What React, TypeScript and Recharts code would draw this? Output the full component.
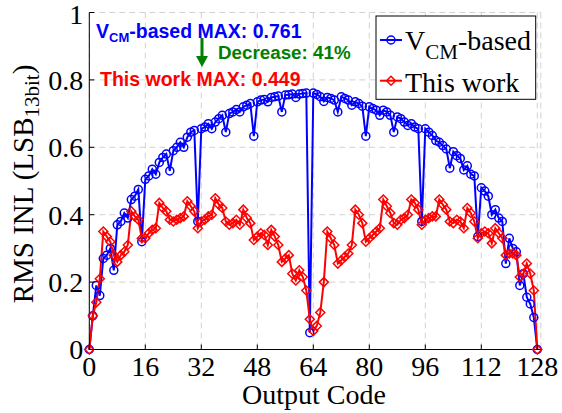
import React from 'react'
import { LineChart, Line, XAxis, YAxis, CartesianGrid } from 'recharts'

// output codes of the 7-bit sweep
const CODES = Array.from({ length: 129 }, (_, i) => i)
const X_TICKS = [0, 16, 32, 48, 64, 80, 96, 112, 128]
const Y_TICKS = [0, 0.2, 0.4, 0.6, 0.8, 1]

// RMS INL (LSB, 13-bit) per output code
const VCM_INL = [
  0, 0.10, 0.19, 0.16, 0.27, 0.28, 0.30, 0.235, 0.37, 0.38,
  0.405, 0.39, 0.445, 0.455, 0.475, 0.32, 0.505, 0.515, 0.535, 0.52,
  0.555, 0.57, 0.58, 0.53, 0.59, 0.60, 0.615, 0.60, 0.63, 0.645,
  0.65, 0.38, 0.655, 0.66, 0.67, 0.655, 0.675, 0.685, 0.695, 0.645,
  0.70, 0.705, 0.712, 0.705, 0.72, 0.725, 0.73, 0.633, 0.735, 0.74,
  0.742, 0.735, 0.748, 0.75, 0.752, 0.705, 0.755, 0.756, 0.758, 0.748,
  0.758, 0.76, 0.761, 0.05, 0.761, 0.757, 0.75, 0.736, 0.748, 0.745,
  0.74, 0.705, 0.75, 0.745, 0.74, 0.725, 0.735, 0.73, 0.722, 0.633,
  0.72, 0.715, 0.71, 0.695, 0.71, 0.705, 0.695, 0.645, 0.69, 0.685,
  0.675, 0.665, 0.67, 0.66, 0.655, 0.38, 0.655, 0.645, 0.635, 0.62,
  0.615, 0.605, 0.595, 0.538, 0.587, 0.575, 0.567, 0.533, 0.545, 0.52,
  0.515, 0.335, 0.48, 0.47, 0.455, 0.40, 0.415, 0.39, 0.38, 0.255,
  0.33, 0.30, 0.29, 0.19, 0.225, 0.155, 0.135, 0.095, 0,
]

const THIS_WORK_INL = [
  0, 0.10, 0.14, 0.21, 0.35, 0.335, 0.32, 0.28, 0.26, 0.28,
  0.29, 0.31, 0.41, 0.395, 0.385, 0.33, 0.33, 0.345, 0.355, 0.36,
  0.435, 0.42, 0.41, 0.385, 0.38, 0.385, 0.39, 0.395, 0.44, 0.425,
  0.41, 0.36, 0.38, 0.385, 0.395, 0.40, 0.449, 0.43, 0.42, 0.38,
  0.37, 0.375, 0.385, 0.37, 0.415, 0.39, 0.375, 0.325, 0.335, 0.345,
  0.34, 0.31, 0.355, 0.335, 0.31, 0.26, 0.27, 0.28, 0.225, 0.205,
  0.235, 0.215, 0.175, 0.09, 0.055, 0.07, 0.11, 0.20, 0.35, 0.33,
  0.31, 0.255, 0.265, 0.275, 0.285, 0.31, 0.415, 0.40, 0.375, 0.32,
  0.33, 0.34, 0.35, 0.36, 0.445, 0.425, 0.405, 0.375, 0.37, 0.385,
  0.39, 0.40, 0.445, 0.435, 0.415, 0.37, 0.385, 0.39, 0.395, 0.395,
  0.445, 0.43, 0.415, 0.38, 0.375, 0.385, 0.38, 0.36, 0.42, 0.405,
  0.38, 0.33, 0.345, 0.35, 0.345, 0.315, 0.36, 0.345, 0.33, 0.28,
  0.285, 0.285, 0.28, 0.215, 0.225, 0.255, 0.225, 0.175, 0,
]

const data = CODES.map((code, i) => ({ code, vcm: VCM_INL[i], ours: THIS_WORK_INL[i] }))

const BLUE = '#0000ff'
const RED = '#ff0000'
const GREEN = '#008000'
const SERIF = '"Liberation Serif", "Times New Roman", serif'
const SANS = '"Liberation Sans", Arial, sans-serif'
const W = 562
const H = 413
const PLOT = { left: 89.3, right: 540.8, top: 12.5, bottom: 349.5 }

const fmtY = (v: number) => (v === 0 ? '0' : v === 1 ? '1' : v.toFixed(1))

const BottomTick = ({ x, y, payload }: any) => (
  <g>
    <line x1={x} x2={x} y1={y} y2={y - 5} stroke="#000" />
    <text x={x} y={y + 26} textAnchor="middle" fontFamily={SERIF} fontSize={28} fill="#000">
      {payload.value}
    </text>
  </g>
)

// the top label sits a little lower so it stays inside the svg
const LeftTick = ({ x, y, payload }: any) => (
  <g>
    <line x1={x} x2={x + 5} y1={y} y2={y} stroke="#000" />
    <text
      x={x - 6}
      y={payload.value === 1 ? y + 2 : y}
      dy="0.35em"
      textAnchor="end"
      fontFamily={SERIF}
      fontSize={28}
      fill="#000"
    >
      {fmtY(payload.value)}
    </text>
  </g>
)

const TopTick = ({ x, y }: any) => <line x1={x} x2={x} y1={y} y2={y + 5} stroke="#000" />
const RightTick = ({ x, y }: any) => <line x1={x} x2={x - 5} y1={y} y2={y} stroke="#000" />

const Diamond = (props: any) => {
  const { cx, cy, index } = props
  const s = 4.5
  return (
    <path
      key={`d-${index}`}
      d={`M${cx},${cy - s}L${cx + s},${cy}L${cx},${cy + s}L${cx - s},${cy}Z`}
      fill="none"
      stroke={RED}
      strokeWidth={1.5}
    />
  )
}

export default function App() {
  return (
    <div style={{ position: 'absolute', left: 0, top: 0, width: W, height: H, background: '#fff' }}>
      <LineChart
        width={W}
        height={H}
        data={data}
        margin={{ top: PLOT.top, right: W - PLOT.right, bottom: H - PLOT.bottom - 40, left: PLOT.left - 60 }}
      >
        <CartesianGrid stroke="#d2d2d2" strokeDasharray="6 4" />
        <XAxis
          dataKey="code"
          type="number"
          domain={[0, 129]}
          ticks={X_TICKS}
          height={40}
          tickSize={0}
          tickMargin={0}
          tickLine={false}
          tick={<BottomTick />}
          axisLine={{ stroke: '#000' }}
          interval={0}
        />
        <XAxis
          xAxisId="top"
          orientation="top"
          dataKey="code"
          type="number"
          domain={[0, 129]}
          ticks={X_TICKS}
          height={0}
          tickSize={0}
          tickMargin={0}
          tickLine={false}
          tick={<TopTick />}
          axisLine={{ stroke: '#000' }}
          interval={0}
        />
        <YAxis
          type="number"
          domain={[0, 1]}
          ticks={Y_TICKS}
          width={60}
          tickSize={0}
          tickMargin={0}
          tickLine={false}
          tick={<LeftTick />}
          axisLine={{ stroke: '#000' }}
          interval={0}
        />
        <YAxis
          yAxisId="right"
          orientation="right"
          type="number"
          domain={[0, 1]}
          ticks={Y_TICKS}
          width={0}
          tickSize={0}
          tickMargin={0}
          tickLine={false}
          tick={<RightTick />}
          axisLine={{ stroke: '#000' }}
          interval={0}
        />
        <Line
          dataKey="vcm"
          stroke={BLUE}
          strokeWidth={2}
          dot={{ r: 4, stroke: BLUE, strokeWidth: 1.5, fill: 'none' }}
          isAnimationActive={false}
        />
        <Line
          dataKey="ours"
          stroke={RED}
          strokeWidth={2}
          dot={<Diamond />}
          isAnimationActive={false}
        />

        {/* axis titles */}
        <text x={314} y={404} textAnchor="middle" fontFamily={SERIF} fontSize={28} fill="#000">
          Output Code
        </text>
        <text
          transform="translate(33,184) rotate(-90)"
          textAnchor="middle"
          fontFamily={SERIF}
          fontSize={29}
          fill="#000"
        >
          RMS INL (LSB
          <tspan fontSize={21} dy={6}>13bit</tspan>
          <tspan dy={-6}>)</tspan>
        </text>

        {/* max annotations */}
        <text x={96} y={37.5} fontFamily={SANS} fontWeight="bold" fontSize={19.5} fill={BLUE}>
          V<tspan fontSize={13} dy={4}>CM</tspan>
          <tspan dy={-4}>-based MAX: 0.761</tspan>
        </text>
        <line x1={202} x2={202} y1={38} y2={58} stroke={GREEN} strokeWidth={3} />
        <polygon points="196,56 208,56 202,67" fill={GREEN} />
        <text x={218} y={59} fontFamily={SANS} fontWeight="bold" fontSize={18.8} fill={GREEN}>
          Decrease: 41%
        </text>
        <text x={100} y={86} fontFamily={SANS} fontWeight="bold" fontSize={19.5} fill={RED}>
          This work MAX: 0.449
        </text>

        {/* legend */}
        <rect x={376} y={16} width={159.7} height={83.3} fill="#fff" stroke="#000" strokeWidth={1} />
        <line x1={380} x2={402} y1={40} y2={40} stroke={BLUE} strokeWidth={2} />
        <circle cx={391} cy={40} r={4} fill="none" stroke={BLUE} strokeWidth={1.5} />
        <text x={405} y={50} fontFamily={SERIF} fontSize={28} fill="#000">
          V<tspan fontSize={21} dy={9}>CM</tspan>
          <tspan dy={-9}>-based</tspan>
        </text>
        <line x1={380} x2={402} y1={80.7} y2={80.7} stroke={RED} strokeWidth={2} />
        <path d="M391,76.2L395.5,80.7L391,85.2L386.5,80.7Z" fill="none" stroke={RED} strokeWidth={1.5} />
        <text x={405} y={92} fontFamily={SERIF} fontSize={28} fill="#000">
          This work
        </text>
      </LineChart>
    </div>
  )
}
